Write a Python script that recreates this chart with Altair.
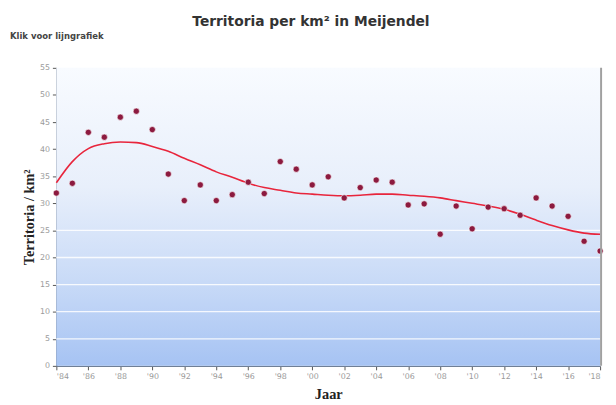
import altair as alt
import pandas as pd

years = list(range(1984, 2019))
values = [31.9, 33.7, 43.1, 42.2, 45.9, 47.0, 43.6, 35.4, 30.5, 33.4,
          30.5, 31.6, 33.9, 31.8, 37.7, 36.3, 33.4, 34.9, 31.0, 32.9,
          34.3, 33.9, 29.7, 29.9, 24.3, 29.5, 25.3, 29.3, 29.0, 27.8,
          31.0, 29.5, 27.6, 23.0, 21.2]
trend = [33.8, 37.7, 40.1, 41.0, 41.3, 41.2, 40.5, 39.6, 38.3, 37.1,
         35.8, 34.8, 33.7, 32.9, 32.4, 31.9, 31.7, 31.5, 31.4, 31.5,
         31.7, 31.7, 31.5, 31.3, 31.0, 30.5, 30.0, 29.5, 28.9, 28.0,
         26.9, 25.9, 25.1, 24.5, 24.3]
x_ticks = list(range(1984, 2019, 2))
y_ticks = list(range(0, 60, 5))
grid_levels = [5, 10, 15, 20, 25]

title_text = "Territoria per km² in Meijendel"
link_text = "Klik voor lijngrafiek"

df = pd.DataFrame({"Jaar": years, "Waarde": values, "Trend": trend})

W, H = 551, 302

x_scale = alt.Scale(domain=[1984, 2018], nice=False, zero=False)
y_scale = alt.Scale(domain=[0, 55], nice=False)

x_axis = alt.Axis(values=x_ticks, title="Jaar", labelOverlap=False,
                  labelExpr="\"'\" + substring(toString(datum.value), 2, 4)",
                  grid=False, titleX=W / 2, titleY=29, titleBaseline="middle")
y_axis = alt.Axis(values=y_ticks, title="Territoria / km²", grid=False,
                  labelOverlap=False,
                  titleX=-27, titleY=H / 2, titleBaseline="middle")

gradient = alt.LinearGradient(
    gradient="linear",
    stops=[alt.GradientStop(color="#f8fbff", offset=0),
           alt.GradientStop(color="#e8effb", offset=0.4),
           alt.GradientStop(color="#c8daf7", offset=0.72),
           alt.GradientStop(color="#a6c3f3", offset=1)],
    x1=0, x2=0, y1=0, y2=1)

bg = alt.Chart(pd.DataFrame({"a": [0]})).mark_rect(color=gradient).encode(
    x=alt.value(0), x2=alt.value(W), y=alt.value(0), y2=alt.value(H))

grid = alt.Chart(pd.DataFrame({"g": grid_levels})).mark_rule(
    color="white", strokeWidth=1.3, opacity=0.85).encode(
    y=alt.Y("g:Q", scale=y_scale, axis=y_axis))

base = alt.Chart(df)

line = base.mark_line(color="#e8253c", strokeWidth=1.6, interpolate="monotone").encode(
    x=alt.X("Jaar:Q", scale=x_scale, axis=x_axis),
    y=alt.Y("Trend:Q", scale=y_scale, axis=y_axis))

points = base.mark_point(filled=True, shape="circle", size=40, color="#8c1a3f",
                         opacity=1, stroke="white", strokeWidth=0.6).encode(
    x=alt.X("Jaar:Q", scale=x_scale, axis=x_axis),
    y=alt.Y("Waarde:Q", scale=y_scale, axis=y_axis))

right_edge = alt.Chart(pd.DataFrame({"a": [0]})).mark_rule(
    color="#a0a0a0", strokeWidth=2).encode(
    x=alt.value(W + 1), y=alt.value(0), y2=alt.value(H))

title = alt.Chart(pd.DataFrame({"t": [title_text]})).mark_text(
    fontSize=14, fontWeight="bold", font="DejaVu Sans", color="#333333",
    align="center", baseline="middle").encode(
    text="t:N", x=alt.value(258), y=alt.value(-46))

link = alt.Chart(pd.DataFrame({"t": [link_text]})).mark_text(
    fontSize=8.6, fontWeight="bold", font="DejaVu Sans", color="#444444",
    align="left", baseline="middle").encode(
    text="t:N", x=alt.value(-47), y=alt.value(-32))

chart = alt.layer(bg, grid, line, points, right_edge, title, link).properties(
    width=W, height=H,
    autosize="none",
    padding={"left": 49, "top": 58, "right": 8, "bottom": 37},
).configure_view(stroke=None).configure_axis(
    labelColor="#9a9a9a", labelFontSize=8, labelFont="DejaVu Sans",
    labelOverlap=False,
    domainColor="#6f7f96", domainWidth=1.5, tickColor="#555555", tickSize=4,
    titleFont="Liberation Serif", titleFontWeight="bold", titleFontSize=14.5,
    titleColor="#222222", labelPadding=3,
)

chart.save("out.html", embed_options={"renderer": "svg", "actions": False})
